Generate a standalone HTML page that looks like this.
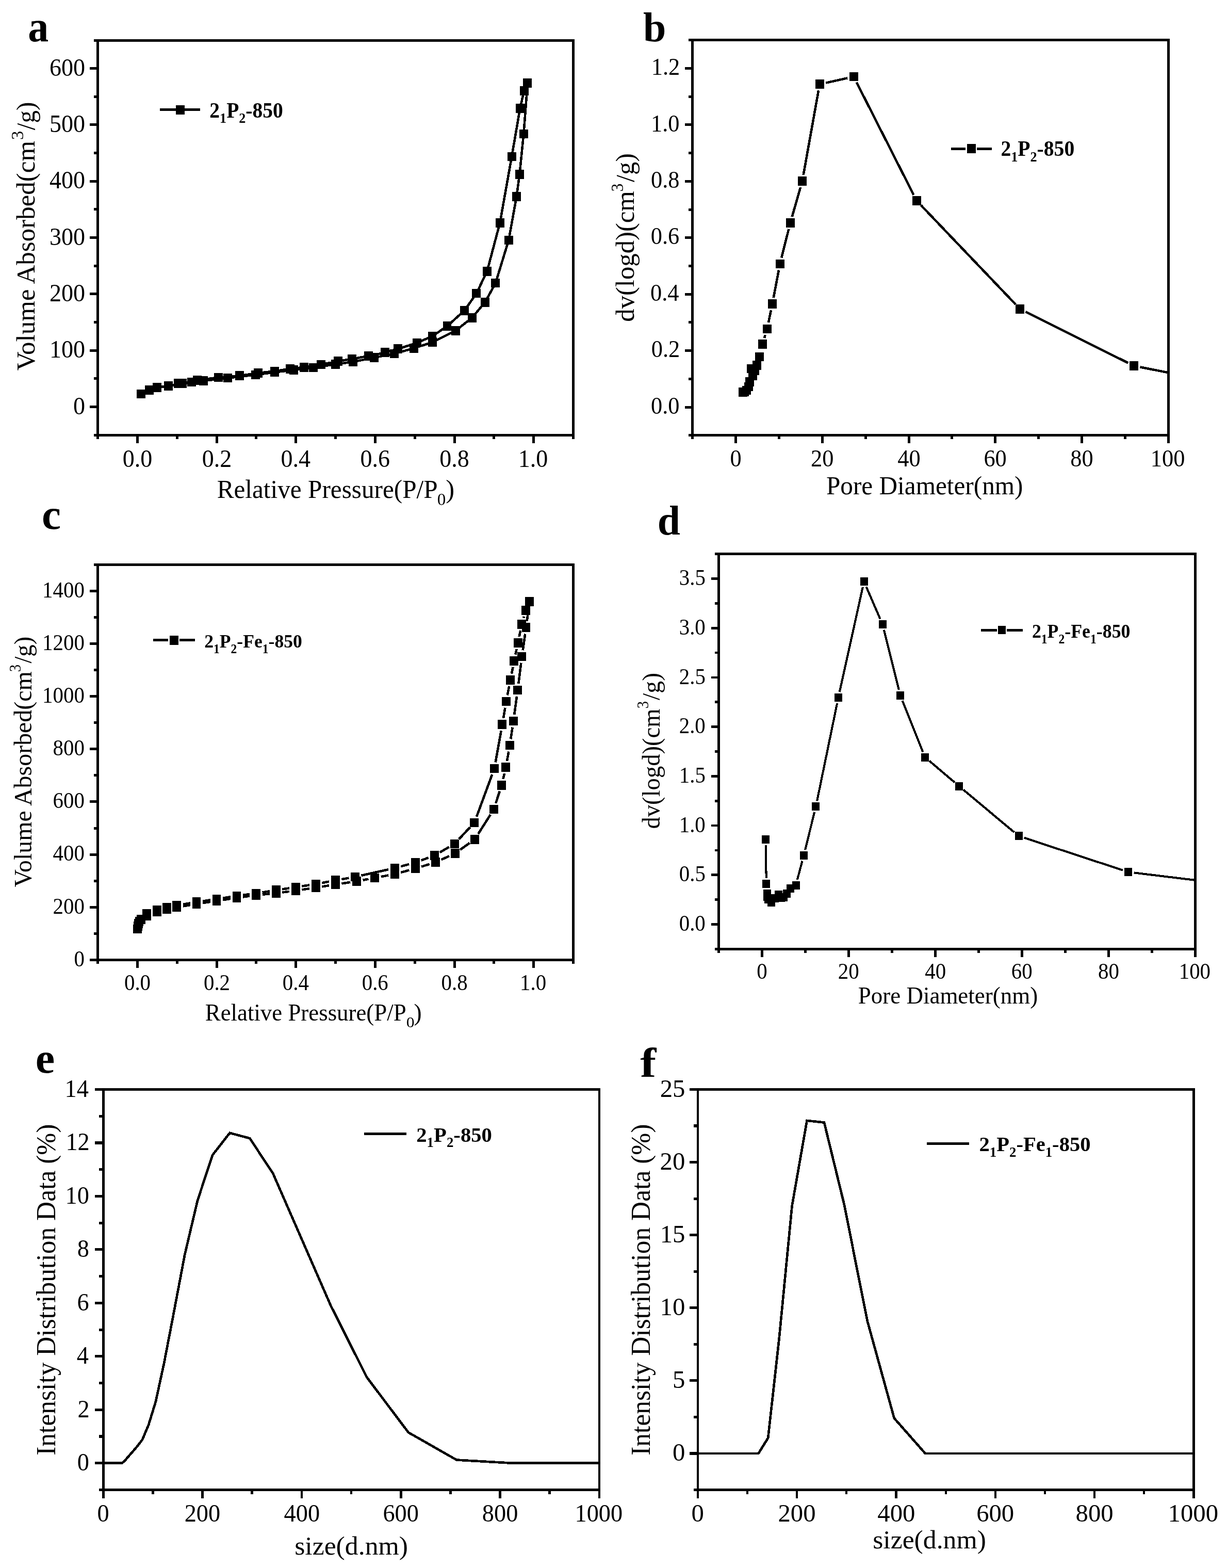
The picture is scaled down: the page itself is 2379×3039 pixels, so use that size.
<!DOCTYPE html>
<html lang="en">
<head>
<meta charset="utf-8">
<title>Figure</title>
<style>
html,body{margin:0;padding:0;background:#fff;}
body{width:2379px;height:3039px;overflow:hidden;}
svg{display:block;font-family:'Liberation Serif', 'DejaVu Serif', serif;fill:#000;shape-rendering:crispEdges;}
text{white-space:pre;}
</style>
</head>
<body>
<svg width="2379" height="3039" viewBox="0 0 2379 3039">
<rect x="0" y="0" width="2379" height="3039" fill="#fff" stroke="none"/>
<g id="panel-a">
<line x1="189.7" y1="75.5" x2="189.7" y2="845.8" stroke="#000" stroke-width="5"/>
<line x1="1111.5" y1="75.5" x2="1111.5" y2="845.8" stroke="#000" stroke-width="5"/>
<line x1="187.2" y1="78" x2="1114" y2="78" stroke="#000" stroke-width="5"/>
<line x1="187.2" y1="843.3" x2="1114" y2="843.3" stroke="#000" stroke-width="5"/>
<line x1="266.52" y1="843.3" x2="266.52" y2="859.3" stroke="#000" stroke-width="5"/>
<text transform="translate(237.72 905.3) scale(0.9500 1)" font-size="48.5">0.0</text>
<line x1="420.15" y1="843.3" x2="420.15" y2="859.3" stroke="#000" stroke-width="5"/>
<text transform="translate(391.76 905.3) scale(0.9500 1)" font-size="48.5">0.2</text>
<line x1="573.78" y1="843.3" x2="573.78" y2="859.3" stroke="#000" stroke-width="5"/>
<text transform="translate(544.47 905.3) scale(0.9500 1)" font-size="48.5">0.4</text>
<line x1="727.42" y1="843.3" x2="727.42" y2="859.3" stroke="#000" stroke-width="5"/>
<text transform="translate(698.45 905.3) scale(0.9500 1)" font-size="48.5">0.6</text>
<line x1="881.05" y1="843.3" x2="881.05" y2="859.3" stroke="#000" stroke-width="5"/>
<text transform="translate(852.25 905.3) scale(0.9500 1)" font-size="48.5">0.8</text>
<line x1="1034.68" y1="843.3" x2="1034.68" y2="859.3" stroke="#000" stroke-width="5"/>
<text transform="translate(1004.73 905.3) scale(0.9500 1)" font-size="48.5">1.0</text>
<line x1="189.7" y1="843.3" x2="189.7" y2="851.3" stroke="#000" stroke-width="5"/>
<line x1="343.33" y1="843.3" x2="343.33" y2="851.3" stroke="#000" stroke-width="5"/>
<line x1="496.97" y1="843.3" x2="496.97" y2="851.3" stroke="#000" stroke-width="5"/>
<line x1="650.6" y1="843.3" x2="650.6" y2="851.3" stroke="#000" stroke-width="5"/>
<line x1="804.23" y1="843.3" x2="804.23" y2="851.3" stroke="#000" stroke-width="5"/>
<line x1="957.87" y1="843.3" x2="957.87" y2="851.3" stroke="#000" stroke-width="5"/>
<line x1="1111.5" y1="843.3" x2="1111.5" y2="851.3" stroke="#000" stroke-width="5"/>
<line x1="173.7" y1="788.64" x2="189.7" y2="788.64" stroke="#000" stroke-width="5"/>
<text transform="translate(142.09 802.64) scale(0.9500 1)" font-size="48.5">0</text>
<line x1="173.7" y1="679.31" x2="189.7" y2="679.31" stroke="#000" stroke-width="5"/>
<text transform="translate(96.02 693.31) scale(0.9500 1)" font-size="48.5">100</text>
<line x1="173.7" y1="569.98" x2="189.7" y2="569.98" stroke="#000" stroke-width="5"/>
<text transform="translate(96.02 583.98) scale(0.9500 1)" font-size="48.5">200</text>
<line x1="173.7" y1="460.65" x2="189.7" y2="460.65" stroke="#000" stroke-width="5"/>
<text transform="translate(96.02 474.65) scale(0.9500 1)" font-size="48.5">300</text>
<line x1="173.7" y1="351.32" x2="189.7" y2="351.32" stroke="#000" stroke-width="5"/>
<text transform="translate(96.02 365.32) scale(0.9500 1)" font-size="48.5">400</text>
<line x1="173.7" y1="241.99" x2="189.7" y2="241.99" stroke="#000" stroke-width="5"/>
<text transform="translate(96.02 255.99) scale(0.9500 1)" font-size="48.5">500</text>
<line x1="173.7" y1="132.66" x2="189.7" y2="132.66" stroke="#000" stroke-width="5"/>
<text transform="translate(96.02 146.66) scale(0.9500 1)" font-size="48.5">600</text>
<line x1="181.7" y1="843.3" x2="189.7" y2="843.3" stroke="#000" stroke-width="5"/>
<line x1="181.7" y1="733.97" x2="189.7" y2="733.97" stroke="#000" stroke-width="5"/>
<line x1="181.7" y1="624.64" x2="189.7" y2="624.64" stroke="#000" stroke-width="5"/>
<line x1="181.7" y1="515.31" x2="189.7" y2="515.31" stroke="#000" stroke-width="5"/>
<line x1="181.7" y1="405.99" x2="189.7" y2="405.99" stroke="#000" stroke-width="5"/>
<line x1="181.7" y1="296.66" x2="189.7" y2="296.66" stroke="#000" stroke-width="5"/>
<line x1="181.7" y1="187.33" x2="189.7" y2="187.33" stroke="#000" stroke-width="5"/>
<line x1="181.7" y1="78" x2="189.7" y2="78" stroke="#000" stroke-width="5"/>
<text transform="translate(54.3 80.26) scale(0.9529 1)" font-size="83.96" font-weight="bold">a</text>
<text transform="translate(420.65 965) scale(0.9561 1)" font-size="51.5">Relative Pressure(P/P</text>
<text transform="translate(847.86 978.6) scale(0.9903 1)" font-size="33.5">0</text>
<text transform="translate(864.35 965) scale(0.9878 1)" font-size="51.5">)</text>
<text transform="translate(66.7 718.21) rotate(-90) scale(1.0105 1)" font-size="50.5">Volume Absorbed(cm</text>
<text transform="translate(45.4 270.96) rotate(-90) scale(1.0579 1)" font-size="33">3</text>
<text transform="translate(66.7 252.2) rotate(-90) scale(0.9702 1)" font-size="50.5">/g)</text>
<polyline points="273.4,763.5 289.8,756 304.6,751 326.8,748 353.7,743.3 394.5,738.2 441.6,732.6 495.4,726.5 532.2,721.5 569.7,717.1 607.1,712.4 650.6,706 684.3,701.3 725.6,693.1 764.7,685.4 802.1,675.1 838.9,663.1 883.4,640.9 915.2,615.8 940.3,586.1 960.9,548.4 986.3,465.4 1001.5,381.1 1007.4,337.8 1015.3,259.6 1022.9,161.2" fill="none" stroke="#000" stroke-width="4.6" stroke-linecap="butt" stroke-linejoin="miter"/>
<polyline points="1022.9,161.2 1016.2,175.9 1008.3,210.1 992.2,303.5 969.3,432 944.4,525.7 923.9,568.5 900.5,601.8 867,632.2 838,651.7 808.5,664.5 771.7,676.3 746.6,683.3 714.8,690.1 682.7,695.5 655.8,700.1 622.4,706.6 589.6,711.7 562.6,714.8 532.2,719.5 500.1,723 464.3,728.3 423.3,731.6 382.3,737 371.8,740.5 345.6,742.9" fill="none" stroke="#000" stroke-width="4.6" stroke-linecap="butt" stroke-linejoin="miter"/>
<path d="M264.95 754.65h16.9v17.7h-16.9zM281.35 747.15h16.9v17.7h-16.9zM296.15 742.15h16.9v17.7h-16.9zM318.35 739.15h16.9v17.7h-16.9zM345.25 734.45h16.9v17.7h-16.9zM386.05 729.35h16.9v17.7h-16.9zM433.15 723.75h16.9v17.7h-16.9zM486.95 717.65h16.9v17.7h-16.9zM523.75 712.65h16.9v17.7h-16.9zM561.25 708.25h16.9v17.7h-16.9zM598.65 703.55h16.9v17.7h-16.9zM642.15 697.15h16.9v17.7h-16.9zM675.85 692.45h16.9v17.7h-16.9zM717.15 684.25h16.9v17.7h-16.9zM756.25 676.55h16.9v17.7h-16.9zM793.65 666.25h16.9v17.7h-16.9zM830.45 654.25h16.9v17.7h-16.9zM874.95 632.05h16.9v17.7h-16.9zM906.75 606.95h16.9v17.7h-16.9zM931.85 577.25h16.9v17.7h-16.9zM952.45 539.55h16.9v17.7h-16.9zM977.85 456.55h16.9v17.7h-16.9zM993.05 372.25h16.9v17.7h-16.9zM998.95 328.95h16.9v17.7h-16.9zM1006.85 250.75h16.9v17.7h-16.9zM1014.45 152.35h16.9v17.7h-16.9zM1014.45 152.35h16.9v17.7h-16.9zM1007.75 167.05h16.9v17.7h-16.9zM999.85 201.25h16.9v17.7h-16.9zM983.75 294.65h16.9v17.7h-16.9zM960.85 423.15h16.9v17.7h-16.9zM935.95 516.85h16.9v17.7h-16.9zM915.45 559.65h16.9v17.7h-16.9zM892.05 592.95h16.9v17.7h-16.9zM858.55 623.35h16.9v17.7h-16.9zM829.55 642.85h16.9v17.7h-16.9zM800.05 655.65h16.9v17.7h-16.9zM763.25 667.45h16.9v17.7h-16.9zM738.15 674.45h16.9v17.7h-16.9zM706.35 681.25h16.9v17.7h-16.9zM674.25 686.65h16.9v17.7h-16.9zM647.35 691.25h16.9v17.7h-16.9zM613.95 697.75h16.9v17.7h-16.9zM581.15 702.85h16.9v17.7h-16.9zM554.15 705.95h16.9v17.7h-16.9zM523.75 710.65h16.9v17.7h-16.9zM491.65 714.15h16.9v17.7h-16.9zM455.85 719.45h16.9v17.7h-16.9zM414.85 722.75h16.9v17.7h-16.9zM373.85 728.15h16.9v17.7h-16.9zM363.35 731.65h16.9v17.7h-16.9zM337.15 734.05h16.9v17.7h-16.9z" fill="#000"/>
<line x1="310.2" y1="212.4" x2="387.8" y2="212.4" stroke="#000" stroke-width="5.2"/>
<path d="M341.05 204.05h16.9v17.7h-16.9z" fill="#000"/>
<text transform="translate(406.32 227.6) scale(0.9527 1)" font-size="41.5" font-weight="bold">2</text>
<text transform="translate(426.09 237.9) scale(0.9527 1)" font-size="27.39" font-weight="bold">1</text>
<text transform="translate(439.13 227.6) scale(0.9527 1)" font-size="41.5" font-weight="bold">P</text>
<text transform="translate(463.29 237.9) scale(0.9527 1)" font-size="27.39" font-weight="bold">2</text>
<text transform="translate(476.33 227.6) scale(0.9527 1)" font-size="41.5" font-weight="bold">-850</text>
</g>
<g id="panel-b">
<line x1="1342.7" y1="75.3" x2="1342.7" y2="846.3" stroke="#000" stroke-width="5"/>
<line x1="2265.2" y1="75.3" x2="2265.2" y2="846.3" stroke="#000" stroke-width="5"/>
<line x1="1340.2" y1="77.8" x2="2267.7" y2="77.8" stroke="#000" stroke-width="5"/>
<line x1="1340.2" y1="843.8" x2="2267.7" y2="843.8" stroke="#000" stroke-width="5"/>
<line x1="1426.56" y1="843.8" x2="1426.56" y2="859.3" stroke="#000" stroke-width="5"/>
<text transform="translate(1415.45 904) scale(0.9500 1)" font-size="46.8">0</text>
<line x1="1594.29" y1="843.8" x2="1594.29" y2="859.3" stroke="#000" stroke-width="5"/>
<text transform="translate(1571.95 904) scale(0.9500 1)" font-size="46.8">20</text>
<line x1="1762.02" y1="843.8" x2="1762.02" y2="859.3" stroke="#000" stroke-width="5"/>
<text transform="translate(1740.18 904) scale(0.9500 1)" font-size="46.8">40</text>
<line x1="1929.75" y1="843.8" x2="1929.75" y2="859.3" stroke="#000" stroke-width="5"/>
<text transform="translate(1907.4 904) scale(0.9500 1)" font-size="46.8">60</text>
<line x1="2097.47" y1="843.8" x2="2097.47" y2="859.3" stroke="#000" stroke-width="5"/>
<text transform="translate(2075.24 904) scale(0.9500 1)" font-size="46.8">80</text>
<line x1="2265.2" y1="843.8" x2="2265.2" y2="859.3" stroke="#000" stroke-width="5"/>
<text transform="translate(2230.74 904) scale(0.9500 1)" font-size="46.8">100</text>
<line x1="1342.7" y1="843.8" x2="1342.7" y2="851.4" stroke="#000" stroke-width="5"/>
<line x1="1510.43" y1="843.8" x2="1510.43" y2="851.4" stroke="#000" stroke-width="5"/>
<line x1="1678.15" y1="843.8" x2="1678.15" y2="851.4" stroke="#000" stroke-width="5"/>
<line x1="1845.88" y1="843.8" x2="1845.88" y2="851.4" stroke="#000" stroke-width="5"/>
<line x1="2013.61" y1="843.8" x2="2013.61" y2="851.4" stroke="#000" stroke-width="5"/>
<line x1="2181.34" y1="843.8" x2="2181.34" y2="851.4" stroke="#000" stroke-width="5"/>
<line x1="1328.1" y1="789.09" x2="1342.7" y2="789.09" stroke="#000" stroke-width="5"/>
<text transform="translate(1261.99 801.69) scale(0.9500 1)" font-size="46.8">0.0</text>
<line x1="1328.1" y1="679.66" x2="1342.7" y2="679.66" stroke="#000" stroke-width="5"/>
<text transform="translate(1262.77 692.26) scale(0.9500 1)" font-size="46.8">0.2</text>
<line x1="1328.1" y1="570.23" x2="1342.7" y2="570.23" stroke="#000" stroke-width="5"/>
<text transform="translate(1260.99 582.83) scale(0.9500 1)" font-size="46.8">0.4</text>
<line x1="1328.1" y1="460.8" x2="1342.7" y2="460.8" stroke="#000" stroke-width="5"/>
<text transform="translate(1261.66 473.4) scale(0.9500 1)" font-size="46.8">0.6</text>
<line x1="1328.1" y1="351.37" x2="1342.7" y2="351.37" stroke="#000" stroke-width="5"/>
<text transform="translate(1261.99 363.97) scale(0.9500 1)" font-size="46.8">0.8</text>
<line x1="1328.1" y1="241.94" x2="1342.7" y2="241.94" stroke="#000" stroke-width="5"/>
<text transform="translate(1261.99 254.54) scale(0.9500 1)" font-size="46.8">1.0</text>
<line x1="1328.1" y1="132.51" x2="1342.7" y2="132.51" stroke="#000" stroke-width="5"/>
<text transform="translate(1262.77 145.11) scale(0.9500 1)" font-size="46.8">1.2</text>
<line x1="1334.9" y1="843.8" x2="1342.7" y2="843.8" stroke="#000" stroke-width="5"/>
<line x1="1334.9" y1="734.37" x2="1342.7" y2="734.37" stroke="#000" stroke-width="5"/>
<line x1="1334.9" y1="624.94" x2="1342.7" y2="624.94" stroke="#000" stroke-width="5"/>
<line x1="1334.9" y1="515.51" x2="1342.7" y2="515.51" stroke="#000" stroke-width="5"/>
<line x1="1334.9" y1="406.09" x2="1342.7" y2="406.09" stroke="#000" stroke-width="5"/>
<line x1="1334.9" y1="296.66" x2="1342.7" y2="296.66" stroke="#000" stroke-width="5"/>
<line x1="1334.9" y1="187.23" x2="1342.7" y2="187.23" stroke="#000" stroke-width="5"/>
<line x1="1334.9" y1="77.8" x2="1342.7" y2="77.8" stroke="#000" stroke-width="5"/>
<text transform="translate(1246.9 80.3) scale(1.0011 1)" font-size="79.72" font-weight="bold">b</text>
<text transform="translate(1601.95 958.1) scale(0.9659 1)" font-size="51">Pore Diameter(nm)</text>
<text transform="translate(1228.7 623.78) rotate(-90) scale(0.9948 1)" font-size="51">dv(logd)(cm</text>
<text transform="translate(1208.1 371.62) rotate(-90) scale(0.9697 1)" font-size="33">3</text>
<text transform="translate(1228.7 353) rotate(-90) scale(0.9919 1)" font-size="51">/g)</text>
<clipPath id="clipb"><rect x="1342.7" y="77.8" width="922.5" height="766"/></clipPath>
<g clip-path="url(#clipb)">
<path d="M1481.99 655.14L1483.81 649.16M1489.9 625.36L1494.9 601.34M1499.71 577.22L1509.99 523.48M1515.3 499.47L1529.3 443.93M1535.69 420.18L1552.11 363.02M1557.67 339.09L1587.03 175.41M1601.21 160.63L1643.19 151.27M1660.77 159.57L1771.53 377.83M1785.59 397.7L1969.11 589.9M1988.61 604.29L2187.39 703.51M2210.46 711.39L2387.94 746.61" fill="none" stroke="#000" stroke-width="4.6" stroke-linecap="butt"/>
<path d="M1432.05 750.95h16.9v17.7h-16.9zM1435.15 750.55h16.9v17.7h-16.9zM1439.35 747.65h16.9v17.7h-16.9zM1442.85 740.65h16.9v17.7h-16.9zM1444.95 730.85h16.9v17.7h-16.9zM1451.25 718.85h16.9v17.7h-16.9zM1447.75 705.55h16.9v17.7h-16.9zM1455.05 709.75h16.9v17.7h-16.9zM1458.95 698.85h16.9v17.7h-16.9zM1463.95 682.75h16.9v17.7h-16.9zM1469.95 658.05h16.9v17.7h-16.9zM1478.95 628.55h16.9v17.7h-16.9zM1488.95 580.45h16.9v17.7h-16.9zM1503.85 502.55h16.9v17.7h-16.9zM1523.85 423.15h16.9v17.7h-16.9zM1547.05 342.35h16.9v17.7h-16.9zM1580.75 154.45h16.9v17.7h-16.9zM1646.75 139.75h16.9v17.7h-16.9zM1768.65 379.95h16.9v17.7h-16.9zM1969.15 589.95h16.9v17.7h-16.9zM2189.95 700.15h16.9v17.7h-16.9z" fill="#000"/>
</g>
<line x1="1844.1" y1="288" x2="1871.8" y2="288" stroke="#000" stroke-width="5"/>
<line x1="1894.1" y1="288" x2="1922.8" y2="288" stroke="#000" stroke-width="5"/>
<path d="M1874.95 279h16.7v17.6h-16.7z" fill="#000"/>
<text transform="translate(1940.42 302.4) scale(0.9594 1)" font-size="41.3" font-weight="bold">2</text>
<text transform="translate(1960.23 313.4) scale(0.9594 1)" font-size="27.26" font-weight="bold">1</text>
<text transform="translate(1973.3 302.4) scale(0.9594 1)" font-size="41.3" font-weight="bold">P</text>
<text transform="translate(1997.5 313.4) scale(0.9594 1)" font-size="27.26" font-weight="bold">2</text>
<text transform="translate(2010.58 302.4) scale(0.9594 1)" font-size="41.3" font-weight="bold">-850</text>
</g>
<g id="panel-c">
<line x1="189.7" y1="1091.8" x2="189.7" y2="1862.9" stroke="#000" stroke-width="5"/>
<line x1="1111.5" y1="1091.8" x2="1111.5" y2="1862.9" stroke="#000" stroke-width="5"/>
<line x1="187.2" y1="1094.3" x2="1114" y2="1094.3" stroke="#000" stroke-width="5"/>
<line x1="187.2" y1="1860.4" x2="1114" y2="1860.4" stroke="#000" stroke-width="5"/>
<line x1="266.52" y1="1860.4" x2="266.52" y2="1876.4" stroke="#000" stroke-width="5"/>
<text transform="translate(240.94 1919.4) scale(0.9300 1)" font-size="44">0.0</text>
<line x1="420.15" y1="1860.4" x2="420.15" y2="1876.4" stroke="#000" stroke-width="5"/>
<text transform="translate(394.93 1919.4) scale(0.9300 1)" font-size="44">0.2</text>
<line x1="573.78" y1="1860.4" x2="573.78" y2="1876.4" stroke="#000" stroke-width="5"/>
<text transform="translate(547.75 1919.4) scale(0.9300 1)" font-size="44">0.4</text>
<line x1="727.42" y1="1860.4" x2="727.42" y2="1876.4" stroke="#000" stroke-width="5"/>
<text transform="translate(701.69 1919.4) scale(0.9300 1)" font-size="44">0.6</text>
<line x1="881.05" y1="1860.4" x2="881.05" y2="1876.4" stroke="#000" stroke-width="5"/>
<text transform="translate(855.48 1919.4) scale(0.9300 1)" font-size="44">0.8</text>
<line x1="1034.68" y1="1860.4" x2="1034.68" y2="1876.4" stroke="#000" stroke-width="5"/>
<text transform="translate(1008.09 1919.4) scale(0.9300 1)" font-size="44">1.0</text>
<line x1="189.7" y1="1860.4" x2="189.7" y2="1868.4" stroke="#000" stroke-width="5"/>
<line x1="343.33" y1="1860.4" x2="343.33" y2="1868.4" stroke="#000" stroke-width="5"/>
<line x1="496.97" y1="1860.4" x2="496.97" y2="1868.4" stroke="#000" stroke-width="5"/>
<line x1="650.6" y1="1860.4" x2="650.6" y2="1868.4" stroke="#000" stroke-width="5"/>
<line x1="804.23" y1="1860.4" x2="804.23" y2="1868.4" stroke="#000" stroke-width="5"/>
<line x1="957.87" y1="1860.4" x2="957.87" y2="1868.4" stroke="#000" stroke-width="5"/>
<line x1="1111.5" y1="1860.4" x2="1111.5" y2="1868.4" stroke="#000" stroke-width="5"/>
<line x1="173.7" y1="1860.4" x2="189.7" y2="1860.4" stroke="#000" stroke-width="5"/>
<text transform="translate(143.47 1872.7) scale(0.9300 1)" font-size="44">0</text>
<line x1="173.7" y1="1758.25" x2="189.7" y2="1758.25" stroke="#000" stroke-width="5"/>
<text transform="translate(102.55 1770.55) scale(0.9300 1)" font-size="44">200</text>
<line x1="173.7" y1="1656.11" x2="189.7" y2="1656.11" stroke="#000" stroke-width="5"/>
<text transform="translate(102.55 1668.41) scale(0.9300 1)" font-size="44">400</text>
<line x1="173.7" y1="1553.96" x2="189.7" y2="1553.96" stroke="#000" stroke-width="5"/>
<text transform="translate(102.55 1566.26) scale(0.9300 1)" font-size="44">600</text>
<line x1="173.7" y1="1451.81" x2="189.7" y2="1451.81" stroke="#000" stroke-width="5"/>
<text transform="translate(102.55 1464.11) scale(0.9300 1)" font-size="44">800</text>
<line x1="173.7" y1="1349.67" x2="189.7" y2="1349.67" stroke="#000" stroke-width="5"/>
<text transform="translate(82.09 1361.97) scale(0.9300 1)" font-size="44">1000</text>
<line x1="173.7" y1="1247.52" x2="189.7" y2="1247.52" stroke="#000" stroke-width="5"/>
<text transform="translate(82.09 1259.82) scale(0.9300 1)" font-size="44">1200</text>
<line x1="173.7" y1="1145.37" x2="189.7" y2="1145.37" stroke="#000" stroke-width="5"/>
<text transform="translate(82.09 1157.67) scale(0.9300 1)" font-size="44">1400</text>
<line x1="181.7" y1="1809.33" x2="189.7" y2="1809.33" stroke="#000" stroke-width="5"/>
<line x1="181.7" y1="1707.18" x2="189.7" y2="1707.18" stroke="#000" stroke-width="5"/>
<line x1="181.7" y1="1605.03" x2="189.7" y2="1605.03" stroke="#000" stroke-width="5"/>
<line x1="181.7" y1="1502.89" x2="189.7" y2="1502.89" stroke="#000" stroke-width="5"/>
<line x1="181.7" y1="1400.74" x2="189.7" y2="1400.74" stroke="#000" stroke-width="5"/>
<line x1="181.7" y1="1298.59" x2="189.7" y2="1298.59" stroke="#000" stroke-width="5"/>
<line x1="181.7" y1="1196.45" x2="189.7" y2="1196.45" stroke="#000" stroke-width="5"/>
<line x1="181.7" y1="1094.3" x2="189.7" y2="1094.3" stroke="#000" stroke-width="5"/>
<text transform="translate(80.98 1025.16) scale(0.9980 1)" font-size="83.54" font-weight="bold">c</text>
<text transform="translate(397.77 1978) scale(0.9585 1)" font-size="46.8">Relative Pressure(P/P</text>
<text transform="translate(787.71 1991.3) scale(1.0588 1)" font-size="30">0</text>
<text transform="translate(802.62 1978) scale(0.9709 1)" font-size="46.8">)</text>
<text transform="translate(60.6 1719.48) rotate(-90) scale(0.9779 1)" font-size="49">Volume Absorbed(cm</text>
<text transform="translate(40 1302.37) rotate(-90) scale(0.9246 1)" font-size="31.2">3</text>
<text transform="translate(60.6 1285.6) rotate(-90) scale(0.9521 1)" font-size="49">/g)</text>
<path d="M354.93 1756.34L368.87 1753.96M393.17 1750.09L407.83 1747.91M432.15 1744.2L446.85 1741.9M471.19 1738.37L484.21 1736.63M508.64 1733.77L522.86 1732.33M547.3 1729.53L561 1727.77M585.37 1724.39L599.93 1722.21M624.25 1718.46L638.05 1716.24M662.36 1712.45L679.34 1709.85M703.59 1705.76L714.51 1703.74M738.68 1699.18L753.12 1696.42M777.08 1690.93L793.42 1686.57M817.04 1679.74L832.66 1674.86M855.61 1666.14L871.09 1659.16M892.29 1646.93L910.51 1633.87M927.11 1616.33L950.89 1578.97M961.25 1556.89L968.75 1533.51M975.39 1509.85L978.01 1499.05M983.03 1474.99L986.27 1456.61M990.23 1432.34L993.67 1409.56M997.17 1385.21L1002.03 1349.59M1005.24 1325.2L1010.36 1284.7M1013.65 1260.33L1018.25 1228.47M1021.6 1204.1L1025 1178.1" fill="none" stroke="#000" stroke-width="4.6" stroke-linecap="butt"/>
<path d="M1016.01 1194.85L1015.19 1197.85M1009.32 1221.73L1006.68 1233.97M1001.6 1258.04L999.4 1268.66M994.52 1292.77L991.98 1305.63M987.24 1329.77L983.76 1347.53M979.36 1371.73L975.94 1392.07M971.71 1416.3L960.69 1477.4M954.24 1501.04L924.06 1582.86M911.39 1603.38L889.81 1626.42M870.77 1641.59L852.73 1652.11M830.54 1662.49L816.66 1667.51M793.23 1674.91L777.07 1679.29M753.19 1685.16L700.51 1696.84M676.39 1701.65L662.31 1704.15M638.11 1708.58L624.19 1711.22M599.94 1715.37L585.36 1717.63M561.04 1721.35L547.26 1723.45M522.95 1727.22L508.55 1729.48M484.21 1733.03L471.19 1734.77M446.85 1738.3L432.15 1740.6M407.83 1744.31L393.17 1746.49M368.87 1750.36L354.93 1752.74" fill="none" stroke="#000" stroke-width="4.6" stroke-linecap="butt"/>
<path d="M258.45 1791.75h16.9v17.7h-16.9zM259.05 1786.35h16.9v17.7h-16.9zM260.05 1781.35h16.9v17.7h-16.9zM261.55 1777.35h16.9v17.7h-16.9zM264.95 1773.25h16.9v17.7h-16.9zM276.35 1765.85h16.9v17.7h-16.9zM296.15 1758.65h16.9v17.7h-16.9zM314.95 1753.55h16.9v17.7h-16.9zM334.35 1749.55h16.9v17.7h-16.9zM372.55 1743.05h16.9v17.7h-16.9zM411.55 1737.25h16.9v17.7h-16.9zM450.55 1731.15h16.9v17.7h-16.9zM487.95 1726.15h16.9v17.7h-16.9zM526.65 1722.25h16.9v17.7h-16.9zM564.75 1717.35h16.9v17.7h-16.9zM603.65 1711.55h16.9v17.7h-16.9zM641.75 1705.45h16.9v17.7h-16.9zM683.05 1699.15h16.9v17.7h-16.9zM718.15 1692.65h16.9v17.7h-16.9zM756.75 1685.25h16.9v17.7h-16.9zM796.85 1674.55h16.9v17.7h-16.9zM835.95 1662.35h16.9v17.7h-16.9zM873.85 1645.25h16.9v17.7h-16.9zM912.05 1617.85h16.9v17.7h-16.9zM949.05 1559.75h16.9v17.7h-16.9zM964.05 1512.95h16.9v17.7h-16.9zM972.45 1478.25h16.9v17.7h-16.9zM979.95 1435.65h16.9v17.7h-16.9zM987.05 1388.55h16.9v17.7h-16.9zM995.25 1328.55h16.9v17.7h-16.9zM1003.45 1263.65h16.9v17.7h-16.9zM1011.55 1207.45h16.9v17.7h-16.9zM1018.15 1157.05h16.9v17.7h-16.9zM1018.15 1157.05h16.9v17.7h-16.9zM1010.85 1174.15h16.9v17.7h-16.9zM1003.45 1200.85h16.9v17.7h-16.9zM995.65 1237.15h16.9v17.7h-16.9zM988.45 1271.85h16.9v17.7h-16.9zM981.15 1308.85h16.9v17.7h-16.9zM972.95 1350.75h16.9v17.7h-16.9zM965.45 1395.35h16.9v17.7h-16.9zM950.05 1480.65h16.9v17.7h-16.9zM911.35 1585.55h16.9v17.7h-16.9zM872.95 1626.55h16.9v17.7h-16.9zM833.65 1649.45h16.9v17.7h-16.9zM796.65 1662.85h16.9v17.7h-16.9zM756.75 1673.65h16.9v17.7h-16.9zM680.05 1690.65h16.9v17.7h-16.9zM641.75 1697.45h16.9v17.7h-16.9zM603.65 1704.65h16.9v17.7h-16.9zM564.75 1710.65h16.9v17.7h-16.9zM526.65 1716.45h16.9v17.7h-16.9zM487.95 1722.55h16.9v17.7h-16.9zM450.55 1727.55h16.9v17.7h-16.9zM411.55 1733.65h16.9v17.7h-16.9zM372.55 1739.45h16.9v17.7h-16.9zM334.35 1745.95h16.9v17.7h-16.9zM314.95 1749.95h16.9v17.7h-16.9zM296.15 1755.05h16.9v17.7h-16.9zM276.35 1762.25h16.9v17.7h-16.9z" fill="#000"/>
<line x1="297.2" y1="1240.3" x2="325.5" y2="1240.3" stroke="#000" stroke-width="5"/>
<line x1="347.8" y1="1240.3" x2="377.8" y2="1240.3" stroke="#000" stroke-width="5"/>
<path d="M329.05 1231.85h16.5v17.7h-16.5z" fill="#000"/>
<text transform="translate(396.19 1255.3) scale(0.9685 1)" font-size="36.8" font-weight="bold">2</text>
<text transform="translate(414.01 1266.3) scale(0.9685 1)" font-size="24.29" font-weight="bold">1</text>
<text transform="translate(425.77 1255.3) scale(0.9685 1)" font-size="36.8" font-weight="bold">P</text>
<text transform="translate(447.54 1266.3) scale(0.9685 1)" font-size="24.29" font-weight="bold">2</text>
<text transform="translate(459.3 1255.3) scale(0.9685 1)" font-size="36.8" font-weight="bold">-Fe</text>
<text transform="translate(508.76 1266.3) scale(0.9685 1)" font-size="24.29" font-weight="bold">1</text>
<text transform="translate(520.52 1255.3) scale(0.9685 1)" font-size="36.8" font-weight="bold">-850</text>
</g>
<g id="panel-d">
<line x1="1393.4" y1="1071.2" x2="1393.4" y2="1841.8" stroke="#000" stroke-width="4.5"/>
<line x1="2317.4" y1="1071.2" x2="2317.4" y2="1841.8" stroke="#000" stroke-width="4.5"/>
<line x1="1391.15" y1="1073.6" x2="2319.65" y2="1073.6" stroke="#000" stroke-width="4.8"/>
<line x1="1391.15" y1="1839.4" x2="2319.65" y2="1839.4" stroke="#000" stroke-width="4.8"/>
<line x1="1477.4" y1="1839.4" x2="1477.4" y2="1855.2" stroke="#000" stroke-width="4.5"/>
<text transform="translate(1467.17 1896.8) scale(0.9300 1)" font-size="44">0</text>
<line x1="1645.4" y1="1839.4" x2="1645.4" y2="1855.2" stroke="#000" stroke-width="4.5"/>
<text transform="translate(1624.84 1896.8) scale(0.9300 1)" font-size="44">20</text>
<line x1="1813.4" y1="1839.4" x2="1813.4" y2="1855.2" stroke="#000" stroke-width="4.5"/>
<text transform="translate(1793.3 1896.8) scale(0.9300 1)" font-size="44">40</text>
<line x1="1981.4" y1="1839.4" x2="1981.4" y2="1855.2" stroke="#000" stroke-width="4.5"/>
<text transform="translate(1960.84 1896.8) scale(0.9300 1)" font-size="44">60</text>
<line x1="2149.4" y1="1839.4" x2="2149.4" y2="1855.2" stroke="#000" stroke-width="4.5"/>
<text transform="translate(2128.94 1896.8) scale(0.9300 1)" font-size="44">80</text>
<line x1="2317.4" y1="1839.4" x2="2317.4" y2="1855.2" stroke="#000" stroke-width="4.5"/>
<text transform="translate(2285.69 1896.8) scale(0.9300 1)" font-size="44">100</text>
<line x1="1393.4" y1="1839.4" x2="1393.4" y2="1847.4" stroke="#000" stroke-width="4.5"/>
<line x1="1561.4" y1="1839.4" x2="1561.4" y2="1847.4" stroke="#000" stroke-width="4.5"/>
<line x1="1729.4" y1="1839.4" x2="1729.4" y2="1847.4" stroke="#000" stroke-width="4.5"/>
<line x1="1897.4" y1="1839.4" x2="1897.4" y2="1847.4" stroke="#000" stroke-width="4.5"/>
<line x1="2065.4" y1="1839.4" x2="2065.4" y2="1847.4" stroke="#000" stroke-width="4.5"/>
<line x1="2233.4" y1="1839.4" x2="2233.4" y2="1847.4" stroke="#000" stroke-width="4.5"/>
<line x1="1379.2" y1="1791.54" x2="1393.4" y2="1791.54" stroke="#000" stroke-width="4.8"/>
<text transform="translate(1316.68 1804.14) scale(0.9300 1)" font-size="44">0.0</text>
<line x1="1379.2" y1="1695.81" x2="1393.4" y2="1695.81" stroke="#000" stroke-width="4.8"/>
<text transform="translate(1316.79 1708.41) scale(0.9300 1)" font-size="44">0.5</text>
<line x1="1379.2" y1="1600.09" x2="1393.4" y2="1600.09" stroke="#000" stroke-width="4.8"/>
<text transform="translate(1316.68 1612.69) scale(0.9300 1)" font-size="44">1.0</text>
<line x1="1379.2" y1="1504.36" x2="1393.4" y2="1504.36" stroke="#000" stroke-width="4.8"/>
<text transform="translate(1316.79 1516.96) scale(0.9300 1)" font-size="44">1.5</text>
<line x1="1379.2" y1="1408.64" x2="1393.4" y2="1408.64" stroke="#000" stroke-width="4.8"/>
<text transform="translate(1316.68 1421.24) scale(0.9300 1)" font-size="44">2.0</text>
<line x1="1379.2" y1="1312.91" x2="1393.4" y2="1312.91" stroke="#000" stroke-width="4.8"/>
<text transform="translate(1316.79 1325.51) scale(0.9300 1)" font-size="44">2.5</text>
<line x1="1379.2" y1="1217.19" x2="1393.4" y2="1217.19" stroke="#000" stroke-width="4.8"/>
<text transform="translate(1316.68 1229.79) scale(0.9300 1)" font-size="44">3.0</text>
<line x1="1379.2" y1="1121.46" x2="1393.4" y2="1121.46" stroke="#000" stroke-width="4.8"/>
<text transform="translate(1316.79 1134.06) scale(0.9300 1)" font-size="44">3.5</text>
<line x1="1386" y1="1839.4" x2="1393.4" y2="1839.4" stroke="#000" stroke-width="4.8"/>
<line x1="1386" y1="1743.68" x2="1393.4" y2="1743.68" stroke="#000" stroke-width="4.8"/>
<line x1="1386" y1="1647.95" x2="1393.4" y2="1647.95" stroke="#000" stroke-width="4.8"/>
<line x1="1386" y1="1552.22" x2="1393.4" y2="1552.22" stroke="#000" stroke-width="4.8"/>
<line x1="1386" y1="1456.5" x2="1393.4" y2="1456.5" stroke="#000" stroke-width="4.8"/>
<line x1="1386" y1="1360.78" x2="1393.4" y2="1360.78" stroke="#000" stroke-width="4.8"/>
<line x1="1386" y1="1265.05" x2="1393.4" y2="1265.05" stroke="#000" stroke-width="4.8"/>
<line x1="1386" y1="1169.32" x2="1393.4" y2="1169.32" stroke="#000" stroke-width="4.8"/>
<line x1="1386" y1="1073.6" x2="1393.4" y2="1073.6" stroke="#000" stroke-width="4.8"/>
<text transform="translate(1274.72 1036.3) scale(0.9961 1)" font-size="79.72" font-weight="bold">d</text>
<text transform="translate(1663.76 1944.6) scale(0.9613 1)" font-size="46.8">Pore Diameter(nm)</text>
<text transform="translate(1278.7 1606.53) rotate(-90) scale(0.9678 1)" font-size="48.2">dv(logd)(cm</text>
<text transform="translate(1256.8 1373.27) rotate(-90) scale(0.9246 1)" font-size="31.2">3</text>
<text transform="translate(1278.7 1356.9) rotate(-90) scale(0.9892 1)" font-size="48.2">/g)</text>
<clipPath id="clipd"><rect x="1393.4" y="1073.6" width="924" height="765.4"/></clipPath>
<g clip-path="url(#clipd)">
<path d="M1484.59 1638.1L1485.71 1701.8M1545.86 1704.97L1555.54 1668.63M1561.07 1647.13L1579.23 1573.87M1584.14 1552.23L1623.16 1362.87M1627.8 1341.16L1672.8 1138.04M1679.62 1137.38L1706.68 1199.82M1713.79 1220.77L1742.81 1336.93M1749.63 1358L1789.37 1457.3M1801.96 1474.79L1850.94 1516.41M1867.92 1530.72L1966.48 1613.08M1985.54 1623.67L2176.96 1686.63M2198.52 1691.44L2438.98 1720.66" fill="none" stroke="#000" stroke-width="4.1" stroke-linecap="butt"/>
<path d="M1476.9 1619.1h15v15.8h-15zM1478.4 1705h15v15.8h-15zM1479.9 1723.8h15v15.8h-15zM1480.3 1730.5h15v15.8h-15zM1481.7 1734.8h15v15.8h-15zM1488.4 1741.1h15v15.8h-15zM1495 1733.4h15v15.8h-15zM1502.1 1726.3h15v15.8h-15zM1506.5 1732h15v15.8h-15zM1511.9 1731.2h15v15.8h-15zM1517.5 1724.2h15v15.8h-15zM1525.2 1714h15v15.8h-15zM1535.5 1707.8h15v15.8h-15zM1550.9 1650h15v15.8h-15zM1574.4 1555.2h15v15.8h-15zM1617.9 1344.1h15v15.8h-15zM1667.7 1119.3h15v15.8h-15zM1703.6 1202.1h15v15.8h-15zM1738 1339.8h15v15.8h-15zM1786 1459.7h15v15.8h-15zM1851.9 1515.7h15v15.8h-15zM1967.5 1612.3h15v15.8h-15zM2180 1682.2h15v15.8h-15z" fill="#000"/>
</g>
<line x1="1901.9" y1="1221.4" x2="1932.8" y2="1221.4" stroke="#000" stroke-width="5"/>
<line x1="1952.1" y1="1221.4" x2="1982.9" y2="1221.4" stroke="#000" stroke-width="5"/>
<path d="M1935.1 1213.45h14.6v15.3h-14.6z" fill="#000"/>
<text transform="translate(2000.88 1236.3) scale(0.9679 1)" font-size="37" font-weight="bold">2</text>
<text transform="translate(2018.78 1246.8) scale(0.9679 1)" font-size="24.42" font-weight="bold">1</text>
<text transform="translate(2030.6 1236.3) scale(0.9679 1)" font-size="37" font-weight="bold">P</text>
<text transform="translate(2052.48 1246.8) scale(0.9679 1)" font-size="24.42" font-weight="bold">2</text>
<text transform="translate(2064.3 1236.3) scale(0.9679 1)" font-size="37" font-weight="bold">-Fe</text>
<text transform="translate(2114 1246.8) scale(0.9679 1)" font-size="24.42" font-weight="bold">1</text>
<text transform="translate(2125.81 1236.3) scale(0.9679 1)" font-size="37" font-weight="bold">-850</text>
</g>
<g id="panel-e">
<line x1="200.2" y1="2108.95" x2="200.2" y2="2890.05" stroke="#000" stroke-width="4.7"/>
<line x1="1162" y1="2108.95" x2="1162" y2="2890.05" stroke="#000" stroke-width="4.7"/>
<line x1="197.85" y1="2111.5" x2="1164.35" y2="2111.5" stroke="#000" stroke-width="5.1"/>
<line x1="197.85" y1="2887.5" x2="1164.35" y2="2887.5" stroke="#000" stroke-width="5.1"/>
<line x1="200.2" y1="2887.5" x2="200.2" y2="2903.5" stroke="#000" stroke-width="4.7"/>
<text transform="translate(188.61 2949.4) scale(0.9700 1)" font-size="47.8">0</text>
<line x1="392.56" y1="2887.5" x2="392.56" y2="2903.5" stroke="#000" stroke-width="4.7"/>
<text transform="translate(357.67 2949.4) scale(0.9700 1)" font-size="47.8">200</text>
<line x1="584.92" y1="2887.5" x2="584.92" y2="2903.5" stroke="#000" stroke-width="4.7"/>
<text transform="translate(550.55 2949.4) scale(0.9700 1)" font-size="47.8">400</text>
<line x1="777.28" y1="2887.5" x2="777.28" y2="2903.5" stroke="#000" stroke-width="4.7"/>
<text transform="translate(742.39 2949.4) scale(0.9700 1)" font-size="47.8">600</text>
<line x1="969.64" y1="2887.5" x2="969.64" y2="2903.5" stroke="#000" stroke-width="4.7"/>
<text transform="translate(934.87 2949.4) scale(0.9700 1)" font-size="47.8">800</text>
<line x1="1162" y1="2887.5" x2="1162" y2="2903.5" stroke="#000" stroke-width="4.7"/>
<text transform="translate(1114.47 2949.4) scale(0.9700 1)" font-size="47.8">1000</text>
<line x1="296.38" y1="2887.5" x2="296.38" y2="2895.5" stroke="#000" stroke-width="4.7"/>
<line x1="488.74" y1="2887.5" x2="488.74" y2="2895.5" stroke="#000" stroke-width="4.7"/>
<line x1="681.1" y1="2887.5" x2="681.1" y2="2895.5" stroke="#000" stroke-width="4.7"/>
<line x1="873.46" y1="2887.5" x2="873.46" y2="2895.5" stroke="#000" stroke-width="4.7"/>
<line x1="1065.82" y1="2887.5" x2="1065.82" y2="2895.5" stroke="#000" stroke-width="4.7"/>
<line x1="184.2" y1="2835.77" x2="200.2" y2="2835.77" stroke="#000" stroke-width="5.1"/>
<text transform="translate(149.76 2850.07) scale(0.9700 1)" font-size="47.8">0</text>
<line x1="184.2" y1="2732.3" x2="200.2" y2="2732.3" stroke="#000" stroke-width="5.1"/>
<text transform="translate(150.57 2746.6) scale(0.9700 1)" font-size="47.8">2</text>
<line x1="184.2" y1="2628.83" x2="200.2" y2="2628.83" stroke="#000" stroke-width="5.1"/>
<text transform="translate(148.71 2643.13) scale(0.9700 1)" font-size="47.8">4</text>
<line x1="184.2" y1="2525.37" x2="200.2" y2="2525.37" stroke="#000" stroke-width="5.1"/>
<text transform="translate(149.41 2539.67) scale(0.9700 1)" font-size="47.8">6</text>
<line x1="184.2" y1="2421.9" x2="200.2" y2="2421.9" stroke="#000" stroke-width="5.1"/>
<text transform="translate(149.76 2436.2) scale(0.9700 1)" font-size="47.8">8</text>
<line x1="184.2" y1="2318.43" x2="200.2" y2="2318.43" stroke="#000" stroke-width="5.1"/>
<text transform="translate(126.57 2332.73) scale(0.9700 1)" font-size="47.8">10</text>
<line x1="184.2" y1="2214.97" x2="200.2" y2="2214.97" stroke="#000" stroke-width="5.1"/>
<text transform="translate(127.38 2229.27) scale(0.9700 1)" font-size="47.8">12</text>
<line x1="184.2" y1="2111.5" x2="200.2" y2="2111.5" stroke="#000" stroke-width="5.1"/>
<text transform="translate(125.53 2125.8) scale(0.9700 1)" font-size="47.8">14</text>
<line x1="192.2" y1="2887.5" x2="200.2" y2="2887.5" stroke="#000" stroke-width="5.1"/>
<line x1="192.2" y1="2784.03" x2="200.2" y2="2784.03" stroke="#000" stroke-width="5.1"/>
<line x1="192.2" y1="2680.57" x2="200.2" y2="2680.57" stroke="#000" stroke-width="5.1"/>
<line x1="192.2" y1="2577.1" x2="200.2" y2="2577.1" stroke="#000" stroke-width="5.1"/>
<line x1="192.2" y1="2473.63" x2="200.2" y2="2473.63" stroke="#000" stroke-width="5.1"/>
<line x1="192.2" y1="2370.17" x2="200.2" y2="2370.17" stroke="#000" stroke-width="5.1"/>
<line x1="192.2" y1="2266.7" x2="200.2" y2="2266.7" stroke="#000" stroke-width="5.1"/>
<line x1="192.2" y1="2163.23" x2="200.2" y2="2163.23" stroke="#000" stroke-width="5.1"/>
<text transform="translate(68.84 2079.16) scale(1.0108 1)" font-size="83.54" font-weight="bold">e</text>
<text transform="translate(571.13 3012.6) scale(1.0056 1)" font-size="51.5">size(d.nm)</text>
<text transform="translate(107.1 2820.8) rotate(-90) scale(0.9904 1)" font-size="52">Intensity Distribution Data (%)</text>
<polyline points="200.2,2835.77 236.59,2835.77 242.35,2830.59 249.01,2822.83 256.72,2814.04 265.66,2803.69 276.01,2790.24 287.99,2761.79 301.86,2716.78 317.92,2642.8 336.58,2546.06 358.13,2432.25 383.04,2326.71 411.99,2238.76 445.46,2195.83 484.22,2206.17 529.14,2273.94 581.17,2392.93 641.38,2530.54 711.11,2669.19 791.8,2776.27 885.39,2829.56 993.68,2835.77 1162,2835.77" fill="none" stroke="#000" stroke-width="4.7" stroke-linecap="butt" stroke-linejoin="miter"/>
<line x1="705.9" y1="2197.4" x2="787.9" y2="2197.4" stroke="#000" stroke-width="5"/>
<text transform="translate(807.27 2212.8) scale(1.0124 1)" font-size="40.2" font-weight="bold">2</text>
<text transform="translate(827.62 2223.4) scale(1.0124 1)" font-size="26.53" font-weight="bold">1</text>
<text transform="translate(841.05 2212.8) scale(1.0124 1)" font-size="40.2" font-weight="bold">P</text>
<text transform="translate(865.91 2223.4) scale(1.0124 1)" font-size="26.53" font-weight="bold">2</text>
<text transform="translate(879.34 2212.8) scale(1.0124 1)" font-size="40.2" font-weight="bold">-850</text>
</g>
<g id="panel-f">
<line x1="1352.8" y1="2108.9" x2="1352.8" y2="2890.1" stroke="#000" stroke-width="4.3"/>
<line x1="2314.5" y1="2108.9" x2="2314.5" y2="2890.1" stroke="#000" stroke-width="4.3"/>
<line x1="1350.65" y1="2111.5" x2="2316.65" y2="2111.5" stroke="#000" stroke-width="5.2"/>
<line x1="1350.65" y1="2887.5" x2="2316.65" y2="2887.5" stroke="#000" stroke-width="5.2"/>
<line x1="1352.8" y1="2887.5" x2="1352.8" y2="2903.5" stroke="#000" stroke-width="4.3"/>
<text transform="translate(1340.61 2948.8) scale(1.0200 1)" font-size="47.8">0</text>
<line x1="1545.14" y1="2887.5" x2="1545.14" y2="2903.5" stroke="#000" stroke-width="4.3"/>
<text transform="translate(1508.45 2948.8) scale(1.0200 1)" font-size="47.8">200</text>
<line x1="1737.48" y1="2887.5" x2="1737.48" y2="2903.5" stroke="#000" stroke-width="4.3"/>
<text transform="translate(1701.34 2948.8) scale(1.0200 1)" font-size="47.8">400</text>
<line x1="1929.82" y1="2887.5" x2="1929.82" y2="2903.5" stroke="#000" stroke-width="4.3"/>
<text transform="translate(1893.13 2948.8) scale(1.0200 1)" font-size="47.8">600</text>
<line x1="2122.16" y1="2887.5" x2="2122.16" y2="2903.5" stroke="#000" stroke-width="4.3"/>
<text transform="translate(2085.59 2948.8) scale(1.0200 1)" font-size="47.8">800</text>
<line x1="2314.5" y1="2887.5" x2="2314.5" y2="2903.5" stroke="#000" stroke-width="4.3"/>
<text transform="translate(2264.53 2948.8) scale(1.0200 1)" font-size="47.8">1000</text>
<line x1="1448.97" y1="2887.5" x2="1448.97" y2="2895.5" stroke="#000" stroke-width="4.3"/>
<line x1="1641.31" y1="2887.5" x2="1641.31" y2="2895.5" stroke="#000" stroke-width="4.3"/>
<line x1="1833.65" y1="2887.5" x2="1833.65" y2="2895.5" stroke="#000" stroke-width="4.3"/>
<line x1="2025.99" y1="2887.5" x2="2025.99" y2="2895.5" stroke="#000" stroke-width="4.3"/>
<line x1="2218.33" y1="2887.5" x2="2218.33" y2="2895.5" stroke="#000" stroke-width="4.3"/>
<line x1="1336.8" y1="2816.95" x2="1352.8" y2="2816.95" stroke="#000" stroke-width="5.2"/>
<text transform="translate(1303.95 2831.25) scale(1.0200 1)" font-size="47.8">0</text>
<line x1="1336.8" y1="2675.86" x2="1352.8" y2="2675.86" stroke="#000" stroke-width="5.2"/>
<text transform="translate(1304.07 2690.16) scale(1.0200 1)" font-size="47.8">5</text>
<line x1="1336.8" y1="2534.77" x2="1352.8" y2="2534.77" stroke="#000" stroke-width="5.2"/>
<text transform="translate(1279.57 2549.07) scale(1.0200 1)" font-size="47.8">10</text>
<line x1="1336.8" y1="2393.68" x2="1352.8" y2="2393.68" stroke="#000" stroke-width="5.2"/>
<text transform="translate(1279.69 2407.98) scale(1.0200 1)" font-size="47.8">15</text>
<line x1="1336.8" y1="2252.59" x2="1352.8" y2="2252.59" stroke="#000" stroke-width="5.2"/>
<text transform="translate(1279.57 2266.89) scale(1.0200 1)" font-size="47.8">20</text>
<line x1="1336.8" y1="2111.5" x2="1352.8" y2="2111.5" stroke="#000" stroke-width="5.2"/>
<text transform="translate(1279.69 2125.8) scale(1.0200 1)" font-size="47.8">25</text>
<line x1="1344.8" y1="2887.5" x2="1352.8" y2="2887.5" stroke="#000" stroke-width="5.2"/>
<line x1="1344.8" y1="2746.41" x2="1352.8" y2="2746.41" stroke="#000" stroke-width="5.2"/>
<line x1="1344.8" y1="2605.32" x2="1352.8" y2="2605.32" stroke="#000" stroke-width="5.2"/>
<line x1="1344.8" y1="2464.23" x2="1352.8" y2="2464.23" stroke="#000" stroke-width="5.2"/>
<line x1="1344.8" y1="2323.14" x2="1352.8" y2="2323.14" stroke="#000" stroke-width="5.2"/>
<line x1="1344.8" y1="2182.05" x2="1352.8" y2="2182.05" stroke="#000" stroke-width="5.2"/>
<text transform="translate(1241.2 2087.1) scale(1.1683 1)" font-size="79.72" font-weight="bold">f</text>
<text transform="translate(1692.23 3001) scale(1.0042 1)" font-size="51.5">size(d.nm)</text>
<text transform="translate(1260.2 2820.8) rotate(-90) scale(0.9904 1)" font-size="52">Intensity Distribution Data (%)</text>
<polyline points="1352.8,2816.95 1470.51,2816.95 1489.17,2787.04 1510.71,2594.03 1535.62,2337.25 1564.57,2171.89 1598.03,2175.56 1636.79,2334.42 1681.7,2560.17 1733.73,2748.67 1793.93,2816.95 2314.5,2816.95" fill="none" stroke="#000" stroke-width="4.7" stroke-linecap="butt" stroke-linejoin="miter"/>
<line x1="1796.9" y1="2216.4" x2="1879.1" y2="2216.4" stroke="#000" stroke-width="4.3"/>
<text transform="translate(1898.47 2230.7) scale(1.0125 1)" font-size="40.1" font-weight="bold">2</text>
<text transform="translate(1918.78 2241.7) scale(1.0125 1)" font-size="26.47" font-weight="bold">1</text>
<text transform="translate(1932.17 2230.7) scale(1.0125 1)" font-size="40.1" font-weight="bold">P</text>
<text transform="translate(1956.98 2241.7) scale(1.0125 1)" font-size="26.47" font-weight="bold">2</text>
<text transform="translate(1970.38 2230.7) scale(1.0125 1)" font-size="40.1" font-weight="bold">-Fe</text>
<text transform="translate(2026.72 2241.7) scale(1.0125 1)" font-size="26.47" font-weight="bold">1</text>
<text transform="translate(2040.12 2230.7) scale(1.0125 1)" font-size="40.1" font-weight="bold">-850</text>
</g>
</svg>
</body>
</html>
